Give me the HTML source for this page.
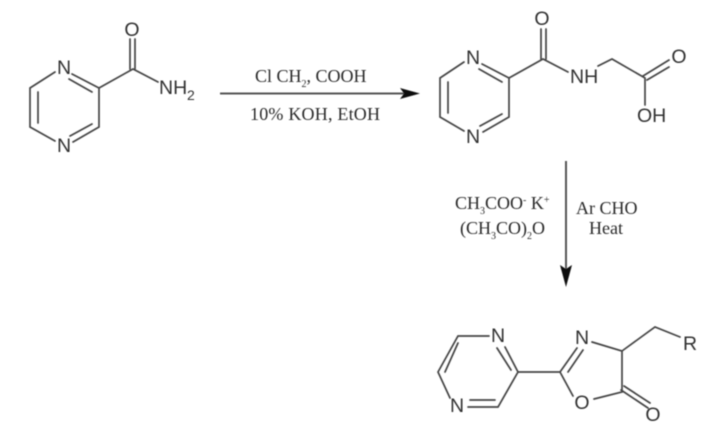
<!DOCTYPE html>
<html>
<head>
<meta charset="utf-8">
<style>
html,body{margin:0;padding:0;background:#fff}
svg{display:block}
.b{stroke:#444;stroke-width:1.7;fill:none;stroke-linecap:round}
.a{font-family:"Liberation Sans",sans-serif;font-size:19.500px;fill:#333}
.m{text-anchor:middle}
.s{font-family:"Liberation Serif",serif;font-size:18px;fill:#2a2a2a}
.u{font-size:10px}
</style>
</head>
<body>
<svg width="713" height="428" viewBox="0 0 713 428" xmlns="http://www.w3.org/2000/svg">
<defs><filter id="f" x="-2%" y="-2%" width="104%" height="104%"><feGaussianBlur stdDeviation="0.5"/></filter></defs>
<rect width="713" height="428" fill="#fff"/>
<g filter="url(#f)">
<!-- molecule 1 -->
<path class="b" d="M55 72L30 88V127L55 141M72 74L99 88V127L73 142M38 92V123M69 79L92 92M70 136L92 124"/>
<path class="b" d="M99 88L133 69L158 82M130 69V39M135 69V39"/>
<text class="a m" x="64" y="74">N</text>
<text class="a m" x="64" y="152">N</text>
<text class="a m" x="132" y="36">O</text>
<text class="a" x="159" y="94">NH</text>
<text class="a" x="187" y="100" style="font-size:14px">2</text>
<!-- arrow 1 -->
<path d="M220 93.500H408" stroke="#555" stroke-width="2" fill="none"/>
<path d="M400 88L420 93.500L400 99L404 93.500Z" fill="#111"/>
<text class="s" x="255" y="82">Cl CH<tspan class="u" dy="5">2</tspan><tspan dy="-5">, COOH</tspan></text>
<text class="s" x="250" y="120" textLength="130">10% KOH, EtOH</text>
<!-- molecule 2 -->
<path class="b" d="M464 62L440 78V117L464 131M482 64L509 78V117L483 132M448 82V113M479 69L502 82M480 126L502 114"/>
<path class="b" d="M509 78L543 59L568 72M541 59V29M546 59V29M598 66L612 59L645 78V105M643 76L669 60M647 80L669 67"/>
<text class="a m" x="473" y="64">N</text>
<text class="a m" x="473" y="143">N</text>
<text class="a m" x="542" y="25">O</text>
<text class="a" x="570" y="83">NH</text>
<text class="a m" x="679" y="63">O</text>
<text class="a" x="637" y="122">OH</text>
<!-- arrow 2 -->
<path d="M566 161V272" stroke="#555" stroke-width="2" fill="none"/>
<path d="M560 265L566 287L572 265L566 269Z" fill="#111"/>
<text class="s" x="455" y="209">CH<tspan class="u" dy="5">3</tspan><tspan dy="-5">COO</tspan><tspan class="u" dy="-6">-</tspan><tspan dy="6"> K</tspan><tspan class="u" dy="-6">+</tspan></text>
<text class="s" x="460" y="234">(CH<tspan class="u" dy="5">3</tspan><tspan dy="-5">CO)</tspan><tspan class="u" dy="5">2</tspan><tspan dy="-5">O</tspan></text>
<text class="s" x="576" y="214">Ar CHO</text>
<text class="s" x="589" y="234">Heat</text>
<!-- molecule 3 -->
<path class="b" d="M489 336H458L438 372L450 398M505 347L518 372L498 407H468M445 372L458 343M497 348L511 370M470 400H495"/>
<path class="b" d="M518 372H560L577 348M568 372L583 350M592 342L622 351V392L594 399M573 396L560 372M622 351L655 327L680 337M621 390L648 408M624 386L650 403"/>
<text class="a m" x="498" y="342">N</text>
<text class="a m" x="457" y="412">N</text>
<text class="a m" x="582" y="344">N</text>
<text class="a m" x="582" y="409">O</text>
<text class="a m" x="653" y="421">O</text>
<text class="a m" x="690" y="350">R</text>
</g>
</svg>
</body>
</html>
